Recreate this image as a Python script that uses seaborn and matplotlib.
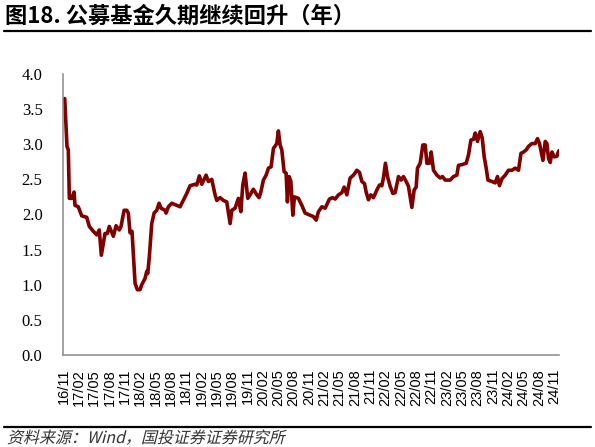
import numpy as np
import matplotlib
matplotlib.use("Agg")
import matplotlib.pyplot as plt
import seaborn as sns
from matplotlib.lines import Line2D
from matplotlib.textpath import TextPath
from matplotlib.patches import PathPatch
from matplotlib.font_manager import FontProperties
from matplotlib.transforms import Affine2D

# months since 2016/11 and fund duration (years)
months = [0.26, 0.70, 0.96, 1.16, 1.63, 2.08, 2.27, 2.91, 3.59, 4.56, 5.07, 5.86, 6.52,
          7.02, 7.42, 8.14, 8.59, 8.98, 9.77, 10.30, 10.94, 11.27, 11.87, 12.39, 12.70,
          13.03, 13.42, 14.02, 14.46, 14.99, 15.32, 15.97, 16.30, 16.50, 16.81, 17.28,
          17.74, 18.26, 18.71, 19.10, 19.89, 20.08, 20.53, 21.19, 21.85, 22.82, 24.13,
          24.78, 25.75, 26.09, 26.60, 27.07, 27.91, 28.36, 29.02, 29.67, 30.01, 30.65,
          31.29, 31.95, 32.61, 32.94, 33.58, 34.23, 34.70, 35.09, 35.54, 36.06, 36.52,
          37.16, 37.83, 38.28, 38.62, 39.12, 39.65, 40.11, 40.63, 41.08, 41.74, 42.05,
          42.39, 42.72, 43.17, 43.56, 43.82, 44.15, 44.49, 44.88, 45.19, 45.97, 46.64,
          47.28, 48.26, 48.91, 49.44, 49.88, 50.56, 51.20, 52.04, 52.63, 53.16, 53.80,
          54.46, 54.92, 55.44, 56.09, 56.74, 57.40, 57.91, 58.38, 58.89, 59.22, 59.67,
          60.14, 60.65, 61.32, 61.82, 62.29, 62.60, 62.99, 63.39, 63.92, 64.44, 64.89,
          65.54, 66.07, 66.52, 67.05, 67.50, 68.16, 68.61, 69.00, 69.26, 69.79, 70.31,
          70.76, 71.10, 71.61, 71.94, 72.39, 73.06, 73.70, 74.15, 74.68, 75.66, 76.30,
          76.96, 77.28, 77.95, 78.79, 79.24, 79.71, 80.22, 80.55, 81.00, 81.53, 81.92,
          82.31, 82.70, 83.04, 83.82, 84.46, 84.91, 85.30, 85.78, 86.42, 87.06, 87.74,
          88.38, 89.02, 89.50, 90.01, 90.53, 90.98, 91.65, 92.29, 92.74, 93.13, 93.46,
          93.80, 94.25, 94.58, 94.89, 95.22, 95.57, 96.01, 96.54, 96.75, 96.95]
duration = [3.65, 2.97, 2.92, 2.23, 2.23, 2.32, 2.13, 2.11, 1.98, 1.96, 1.83, 1.76, 1.71,
            1.78, 1.42, 1.73, 1.73, 1.83, 1.69, 1.84, 1.78, 1.83, 2.06, 2.06, 2.02,
            1.74, 1.76, 1.02, 0.93, 0.93, 1.00, 1.09, 1.19, 1.16, 1.40, 1.87,
            2.02, 2.06, 2.16, 2.09, 2.06, 2.02, 2.11, 2.16, 2.14, 2.11, 2.30,
            2.41, 2.43, 2.42, 2.55, 2.43, 2.56, 2.47, 2.50, 2.28, 2.20, 2.24,
            2.20, 2.18, 1.87, 2.06, 2.09, 2.23, 2.04, 2.42, 2.59, 2.23, 2.28,
            2.36, 2.28, 2.24, 2.32, 2.49, 2.56, 2.66, 2.68, 2.94, 3.01, 3.19,
            2.99, 2.92, 2.61, 2.59, 2.18, 2.54, 2.47, 1.99, 2.25, 2.23, 2.13,
            2.02, 1.99, 1.97, 1.92, 2.04, 2.11, 2.09, 2.22, 2.24, 2.22, 2.28,
            2.31, 2.39, 2.28, 2.52, 2.56, 2.63, 2.60, 2.47, 2.44, 2.32, 2.21,
            2.28, 2.24, 2.35, 2.42, 2.41, 2.52, 2.73, 2.54, 2.40, 2.30, 2.31,
            2.54, 2.49, 2.54, 2.47, 2.40, 2.10, 2.35, 2.39, 2.66, 2.73, 2.99,
            2.99, 2.73, 2.73, 2.89, 2.63, 2.56, 2.52, 2.54, 2.49, 2.49, 2.54,
            2.56, 2.70, 2.71, 2.73, 2.85, 3.06, 3.07, 3.16, 3.04, 3.18, 3.09,
            2.82, 2.66, 2.49, 2.47, 2.45, 2.54, 2.41, 2.51, 2.56, 2.63, 2.63,
            2.66, 2.63, 2.87, 2.89, 2.92, 2.97, 3.01, 3.01, 3.08, 3.01, 2.89,
            2.77, 3.04, 3.01, 2.80, 2.74, 2.89, 2.82, 2.83, 2.88, 2.91]

tick_labels = ['16/11', '17/02', '17/05', '17/08', '17/11', '18/02', '18/05', '18/08',
               '18/11', '19/02', '19/05', '19/08', '19/11', '20/02', '20/05', '20/08',
               '20/11', '21/02', '21/05', '21/08', '21/11', '22/02', '22/05', '22/08',
               '22/11', '23/02', '23/05', '23/08', '23/11', '24/02', '24/05', '24/08',
               '24/11']
y_ticks = [0.0, 0.5, 1.0, 1.5, 2.0, 2.5, 3.0, 3.5, 4.0]

title = '图18. 公募基金久期继续回升（年）'
source = '资料来源：Wind，国投证券证券研究所'

sns.set_theme(style='white')
plt.rcParams['font.family'] = ['Noto Sans CJK SC', 'DejaVu Sans']

W, H = 595, 447
fig = plt.figure(figsize=(W / 100, H / 100), dpi=100)
ax = fig.add_axes([63.4 / W, 1 - 355 / H, 495.9 / W, 281 / H])

sns.lineplot(x=months, y=duration, ax=ax, color='#800000', linewidth=2.6)

ax.set_xlim(0, 97.0)
ax.set_ylim(0, 4)
ax.set_xticks(np.arange(0, 3 * len(tick_labels), 3))
ax.set_xticklabels(tick_labels, rotation=90, fontsize=10.5, family='Liberation Sans')
ax.set_yticks(y_ticks)
ax.set_yticklabels([f'{v:.1f}' for v in y_ticks], fontsize=12, family='Liberation Serif')
ax.set_xlabel('')
ax.set_ylabel('')

grey = '#8a8a8a'
for s in ['top', 'right']:
    ax.spines[s].set_visible(False)
for s in ['left', 'bottom']:
    ax.spines[s].set_color(grey)
    ax.spines[s].set_linewidth(1.1)
ax.tick_params(axis='both', direction='in', length=4, width=1, color=grey, labelcolor='black')
ax.tick_params(axis='y', pad=15)
ax.tick_params(axis='x', pad=10)

# title and rules
fig.text(5 / W, 1 - 16 / H, title, fontsize=16, fontweight='bold', va='center', ha='left',
         color='black')
fig.add_artist(Line2D([4 / W, 591 / W], [1 - 30.7 / H] * 2, color='black', lw=1.6))
fig.add_artist(Line2D([4 / W, 591 / W], [1 - 426.7 / H] * 2, color='black', lw=1.6))

# italic-looking source note (CJK font has no italic, so shear the glyph path)
fp = FontProperties(family='Noto Sans CJK SC', size=11.5)
tp = TextPath((0, 0), source, prop=fp)
tr = Affine2D().skew_deg(14, 0).translate(7 * 0.72, 4 * 0.72).scale(1 / 72) + fig.dpi_scale_trans
fig.add_artist(PathPatch(tp, transform=tr, color='#333333', lw=0))

fig.savefig('out.png', dpi=100)
